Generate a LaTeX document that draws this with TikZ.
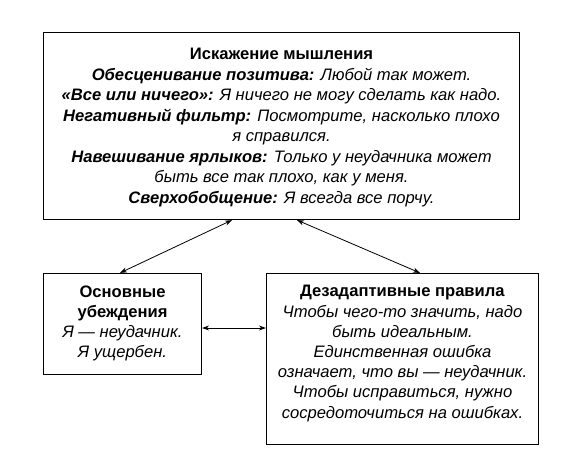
\documentclass[tikz,border=0pt]{standalone}
\usepackage{fontspec}
\setmainfont{Liberation Sans}
\usetikzlibrary{arrows.meta}

\tikzset{bloc/.style = {draw, line width = 1.2pt, inner sep = 0pt, align = center,
                        font = \fontsize{16.6}{20.2}\selectfont},
         lien/.style = {{Stealth[length = 7pt, width = 5pt]}-{Stealth[length = 7pt, width = 5pt]},
                        line width = 0.8pt}
        }
\newcommand{\casier}[4][12pt]{\parbox[c][#3][t]{#2}{\centering\vspace{#1}#4}}

\begin{document}
\begin{tikzpicture}[x = 1pt, y = -1pt]
\fill[white] (0,0) rectangle (588,472);
\useasboundingbox (0,0) rectangle (588,472);
\node[bloc, font = \fontsize{16.6}{20.45}\selectfont] (core) at (281.5,126)
   {\casier[16pt]{476pt}{187pt}{\textbf{Искажение мышления}\\
    \textbf{\textit{Обесценивание позитива:}} \textit{Любой так может.}\\
    \textbf{\textit{«Все или ничего»:}} \textit{Я ничего не могу сделать как надо.}\\
    \textbf{\textit{Негативный фильтр:}} \textit{Посмотрите, насколько плохо}\\
    \textit{я справился.}\\
    \textbf{\textit{Навешивание ярлыков:}} \textit{Только у неудачника может}\\
    \textit{быть все так плохо, как у меня.}\\
    \textbf{\textit{Сверхобобщение:}} \textit{Я всегда все порчу.}}};
\node[bloc] (beliefs) at (122.5,324)
   {\casier{158pt}{101pt}{\textbf{Основные}\\ \textbf{убеждения}\\
    \textit{Я — неудачник.}\\ \textit{Я ущербен.}}};
\node[bloc] (rules) at (402.5,359)
   {\casier{272pt}{171pt}{\textbf{Дезадаптивные правила}\\
    \textit{Чтобы чего-то значить, надо}\\ \textit{быть идеальным.}\\
    \textit{Единственная ошибка}\\ \textit{означает, что вы — неудачник.}\\
    \textit{Чтобы исправиться, нужно}\\ \textit{сосредоточиться на ошибках.}}};
% liens
\draw[lien] ([xshift = -49.5pt]core.south) -- ([xshift = -2.5pt]beliefs.north);
\draw[lien] ([xshift = 15.5pt]core.south) -- ([xshift = 17.5pt]rules.north);
\draw[lien] ([yshift = -4pt]beliefs.east) -- ([yshift = -4pt]beliefs.east -| rules.west);
\end{tikzpicture}
\end{document}
